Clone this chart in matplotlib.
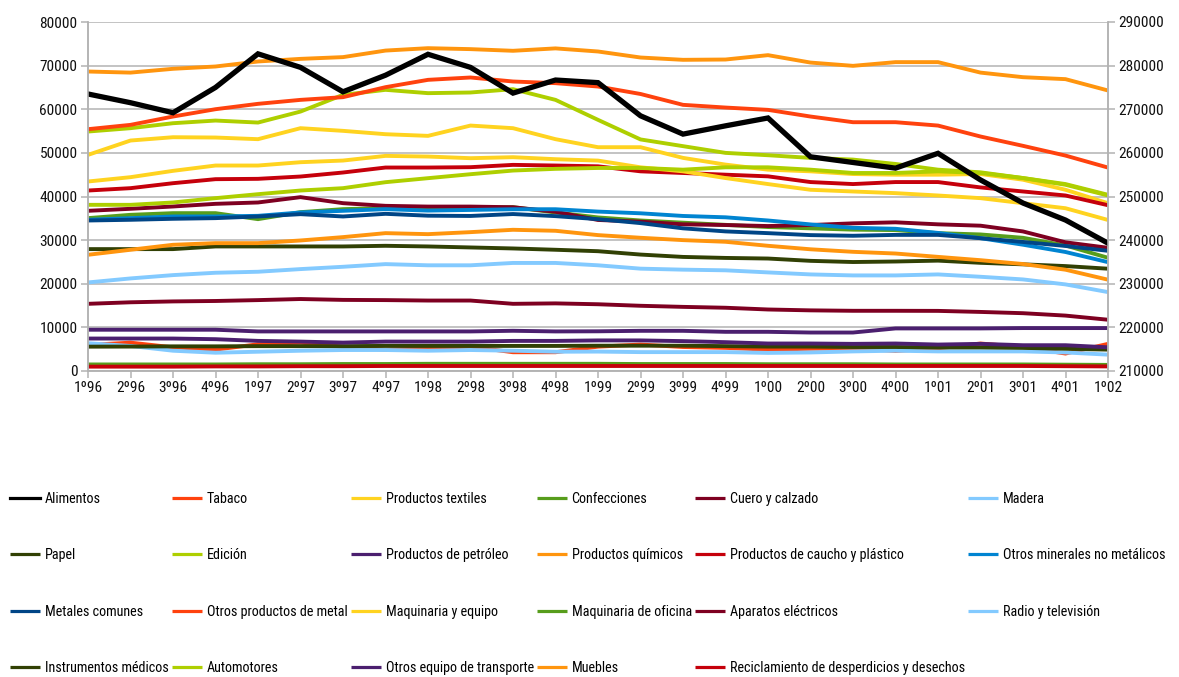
import numpy as np
import matplotlib
matplotlib.use("Agg")
import matplotlib.pyplot as plt
from matplotlib import font_manager as fm
from matplotlib.font_manager import FontProperties


def find_condensed():
    prefs = ["LiberationSansNarrow-Regular", "RobotoCondensed-Regular", "DejaVuSansCondensed.",
             "NotoSans-Condensed.", "NotoSans-CondensedRegular", "OpenSans_Condensed-Regular",
             "OpenSansCondensed"]
    files = [f.fname for f in fm.fontManager.ttflist]
    for p in prefs:
        for fn in files:
            if p.lower() in fn.lower():
                return fn
    for f in fm.fontManager.ttflist:
        n = f.fname.lower()
        if ("narrow" in n or "condensed" in n) and "bold" not in n and "italic" not in n \
                and "light" not in n and "oblique" not in n and "mono" not in n:
            return f.fname
    return None


cfile = find_condensed()


def make_fp(size):
    if cfile:
        return FontProperties(fname=cfile, size=size)
    return FontProperties(family=["Liberation Sans", "DejaVu Sans"], size=size)


quarters = ["1º96", "2º96", "3º96", "4º96", "1º97", "2º97", "3º97", "4º97",
            "1º98", "2º98", "3º98", "4º98", "1º99", "2º99", "3º99", "4º99",
            "1º00", "2º00", "3º00", "4º00", "1º01", "2º01", "3º01", "4º01", "1º02"]

# secondary (right) axis series
alimentos = [273500, 271500, 269200, 275000, 282700, 279600, 274000, 277800, 282600, 279600,
             273700, 276700, 276100, 268500, 264300, 266200, 268000, 259100, 257800, 256500,
             259900, 253800, 248500, 244600, 239300]

# primary (left) axis series
tabaco = [5970, 6500, 5430, 4900, 6120, 6500, 5580, 4900, 5190, 5580, 4300, 4300, 5580, 6060,
          5500, 5300, 4880, 5100, 5200, 4600, 5200, 6300, 5500, 4000, 6220]
textiles = [49540, 52830, 53590, 53520, 53140, 55660, 55050, 54280, 53900, 56260, 55660, 53140,
            51300, 51300, 48850, 47310, 46150, 45770, 45150, 45000, 45000, 45150, 43850, 41540, 38460]
confecciones = [35040, 35800, 36180, 36180, 34810, 36410, 37100, 37330, 37100, 37330, 37560, 36340,
                35200, 34500, 34000, 33500, 33000, 32700, 32400, 32300, 31600, 31300, 30530, 28780, 25950]
cuero = [36720, 37180, 37710, 38320, 38630, 39850, 38470, 37860, 37690, 37690, 37540, 36500,
         34620, 34230, 33620, 33460, 33230, 33460, 33850, 34080, 33620, 33310, 31990, 29500, 28240]
madera = [20300, 21220, 21980, 22520, 22750, 23360, 23890, 24500, 24230, 24230, 24770, 24770,
          24230, 23460, 23230, 23080, 22600, 22140, 21910, 21910, 22140, 21600, 20990, 19850, 18090]
papel = [27940, 27940, 27940, 28550, 28550, 28550, 28550, 28700, 28550, 28320, 28090, 27790,
         27460, 26690, 26150, 25920, 25780, 25250, 24980, 25100, 25300, 24800, 24450, 24050, 23450]
edicion = [54890, 55660, 56800, 57410, 56950, 59470, 63300, 64450, 63690, 63840, 64600, 62150,
           57570, 53080, 51540, 50000, 49460, 48850, 48460, 47460, 46150, 45540, 44230, 42690, 40230]
petroleo = [9460, 9460, 9460, 9460, 9070, 9070, 9070, 9070, 9070, 9070, 9220, 9070, 9100, 9210,
            9210, 8980, 8980, 8820, 8820, 9760, 9760, 9760, 9840, 9840, 9840]
quimicos = [68650, 68400, 69270, 69800, 70950, 71550, 71950, 73450, 74000, 73780, 73400, 73950,
            73240, 71860, 71330, 71400, 72400, 70700, 69950, 70800, 70800, 68400, 67350, 66900, 64300]
caucho = [41370, 41910, 43050, 43970, 44050, 44580, 45500, 46640, 46640, 46720, 47250, 47100,
          46920, 45770, 45390, 45000, 44620, 43310, 42850, 43310, 43310, 42080, 41150, 40230, 38000]
minerales = [34660, 35040, 35420, 35420, 35570, 36340, 36720, 37100, 36770, 36920, 37080, 37080,
             36540, 36150, 35540, 35230, 34500, 33600, 32820, 32600, 31650, 30450, 28950, 27280, 24950]
metales = [34500, 34660, 34890, 35040, 35420, 35950, 35420, 36030, 35600, 35540, 35980, 35500,
           34800, 33900, 32700, 32000, 31600, 31150, 31000, 31200, 31200, 30450, 29580, 28660, 27550]
otros_metal = [55430, 56420, 58330, 60010, 61240, 62150, 62770, 65060, 66740, 67280, 66360, 65980,
               65210, 63500, 61010, 60390, 59860, 58330, 57030, 57030, 56260, 53750, 51610, 49380, 46630]
maquinaria = [43440, 44430, 45880, 47100, 47100, 47860, 48240, 49310, 49160, 48780, 49010, 48550,
              48230, 46690, 45770, 44230, 42850, 41540, 41150, 40770, 40230, 39620, 38460, 37310, 34620]
oficina = [1500, 1500, 1500, 1500, 1550, 1550, 1600, 1600, 1650, 1650, 1650, 1650, 1650, 1600,
           1600, 1600, 1550, 1550, 1550, 1500, 1500, 1500, 1500, 1450, 1400]
electricos = [15400, 15750, 15950, 16050, 16250, 16500, 16300, 16250, 16150, 16150, 15400, 15500,
              15300, 14950, 14700, 14500, 14100, 13900, 13800, 13800, 13780, 13540, 13250, 12700, 11750]
radio = [6360, 5740, 4650, 4190, 4420, 4650, 4810, 4810, 4650, 4810, 4650, 4420, 4450, 4330,
         4330, 4330, 4150, 4250, 4490, 4650, 4490, 4490, 4490, 4250, 3750]
instrumentos = [5580, 5600, 5650, 5650, 5700, 5700, 5700, 5750, 5750, 5750, 5750, 5750, 5800,
                5800, 5800, 5700, 5600, 5600, 5500, 5500, 5400, 5400, 5300, 5100, 4900]
automotores = [38090, 38090, 38630, 39620, 40530, 41370, 41910, 43280, 44200, 45110, 45950, 46340,
               46540, 46540, 46150, 46690, 46690, 46150, 45390, 45390, 45770, 45390, 44230, 42850, 40390]
transporte = [7440, 7440, 7440, 7290, 6900, 6740, 6510, 6740, 6740, 6740, 6900, 6900, 7010, 7010,
              6850, 6610, 6300, 6300, 6220, 6300, 6060, 6220, 5910, 5910, 5430]
muebles = [26640, 27790, 28930, 29310, 29310, 29920, 30690, 31600, 31370, 31830, 32370, 32140,
           31150, 30540, 30000, 29620, 28700, 27900, 27320, 26930, 26160, 25400, 24520, 23220, 20930]
reciclamiento = [1000, 1000, 1000, 1050, 1050, 1100, 1100, 1150, 1150, 1150, 1150, 1150, 1150,
                 1150, 1150, 1150, 1150, 1150, 1150, 1150, 1150, 1150, 1150, 1100, 1050]

left_series = [
    ("Tabaco", tabaco, "#ff420e"),
    ("Productos textiles", textiles, "#ffd320"),
    ("Confecciones", confecciones, "#579d1c"),
    ("Cuero y calzado", cuero, "#7e0021"),
    ("Madera", madera, "#83caff"),
    ("Papel", papel, "#314004"),
    ("Edición", edicion, "#aecf00"),
    ("Productos de petróleo", petroleo, "#4b1f6f"),
    ("Productos químicos", quimicos, "#ff950e"),
    ("Productos de caucho y plástico", caucho, "#c5000b"),
    ("Otros minerales no metálicos", minerales, "#0084d1"),
    ("Metales comunes", metales, "#004586"),
    ("Otros productos de metal", otros_metal, "#ff420e"),
    ("Maquinaria y equipo", maquinaria, "#ffd320"),
    ("Maquinaria de oficina", oficina, "#579d1c"),
    ("Aparatos eléctricos", electricos, "#7e0021"),
    ("Radio y televisión", radio, "#83caff"),
    ("Instrumentos médicos", instrumentos, "#314004"),
    ("Automotores", automotores, "#aecf00"),
    ("Otros equipo de transporte", transporte, "#4b1f6f"),
    ("Muebles", muebles, "#ff950e"),
    ("Reciclamiento de desperdicios y desechos", reciclamiento, "#c5000b"),
]

W, H = 1179, 677
fig = plt.figure(figsize=(W / 100, H / 100), dpi=100)
renderer = fig.canvas.get_renderer()


def measure(s, size):
    t = fig.text(0, 0, s, fontproperties=make_fp(size))
    bb = t.get_window_extent(renderer)
    t.remove()
    return bb.width, bb.height


# font sizes chosen so text widths match the reference
w10, _ = measure("80000", 10)
tick_size = 10 * 37.5 / w10
w10, _ = measure("Reciclamiento de desperdicios y desechos", 10)
leg_size = 10 * 234 / w10
fp_tick = make_fp(tick_size)
fp_leg = make_fp(leg_size)

L, R, T, B = 88, 1108, 22, 371
ax = fig.add_axes([L / W, 1 - B / H, (R - L) / W, (B - T) / H])
x = np.arange(len(quarters))

GRID = "#b3b3b3"
handles = {}
for name, vals, col in left_series:
    ln, = ax.plot(x, vals, color=col, lw=2.8, solid_joinstyle="miter", solid_capstyle="butt", label=name)
    handles[name] = ln

ax.set_xlim(0, len(quarters) - 1)
ax.set_ylim(0, 80000)
ax.set_yticks(range(0, 80001, 10000))
ax.set_yticklabels([str(v) for v in range(0, 80001, 10000)])
ax.set_xticks(x)
ax.set_xticklabels(quarters)
ax.yaxis.grid(True, color=GRID, lw=1.1)
ax.set_axisbelow(True)

ax2 = ax.twinx()
ln, = ax2.plot(x, alimentos, color="#000000", lw=3.8, solid_joinstyle="miter", label="Alimentos")
handles["Alimentos"] = ln
ax2.set_ylim(210000, 290000)
ax2.set_yticks(range(210000, 290001, 10000))
ax2.set_yticklabels([str(v) for v in range(210000, 290001, 10000)])

for a in (ax, ax2):
    a.spines["top"].set_visible(False)
    for s in ("left", "right", "bottom"):
        a.spines[s].set_color(GRID)
        a.spines[s].set_linewidth(1.1)
    a.tick_params(axis="both", direction="out", length=5, width=1.1, color=GRID,
                  labelcolor="#111111", pad=2.5)
    for lbl in a.get_xticklabels() + a.get_yticklabels():
        lbl.set_fontproperties(fp_tick)

names_order = ["Alimentos"] + [n for n, _, _ in left_series]
ncol = 6
cols = []
for j in range(ncol):
    cols.extend(names_order[j::ncol])

fs_px = leg_size * 100 / 72
_, th = measure("Alimentos", leg_size)
row_h = max(th, 0.7 * fs_px)
pitch = 56.3
labelspacing = (pitch - row_h) / fs_px
top_y = 499 - row_h / 2

leg = fig.legend([handles[n] for n in cols], cols, ncol=ncol, loc="upper left",
                 bbox_to_anchor=(10 / W, 1 - top_y / H), frameon=False, prop=fp_leg,
                 handlelength=30 / fs_px, handletextpad=5 / fs_px, columnspacing=3 / fs_px,
                 labelspacing=labelspacing, borderaxespad=0, borderpad=0)
for lh in leg.get_lines():
    lh.set_linewidth(2.3)

fig.savefig("out.png", dpi=100)
